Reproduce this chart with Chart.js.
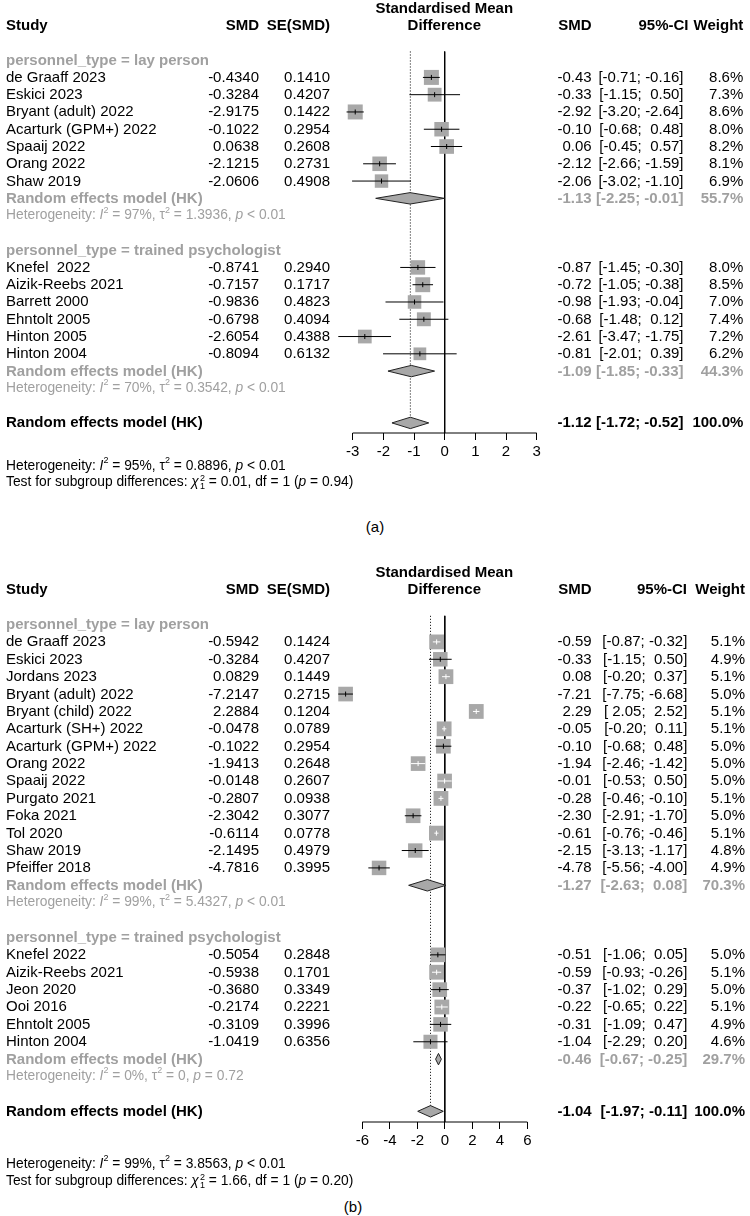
<!DOCTYPE html>
<html>
<head>
<meta charset="utf-8">
<script src="https://cdn.jsdelivr.net/npm/chart.js@4.4.0/dist/chart.umd.min.js"></script>
<style>
  body { margin: 0; background: #fff; }
  #page { position: relative; width: 750px; height: 1216px; overflow: hidden;
          font-family: "Liberation Sans", Arial, sans-serif; font-size: 15px; color: #000; }
  #page canvas { position: absolute; left: 0; }
  .t { position: absolute; white-space: pre; line-height: 18px; height: 18px; }
  .b { font-weight: bold; }
  .g { color: #a0a0a0; }
  .s { font-size: 13.8px; }
  .t sup { font-size: 9px; line-height: 0; position: relative; top: -1px; vertical-align: super; }
  .st { display: inline-flex; flex-direction: column; font-size: 9px; line-height: 8px; vertical-align: 5px; margin-left: 1px; }
</style>
</head>
<body>
<div id="page"></div>
<script>
// ---- panel (a) data ----
const namesA1 = ['de Graaff 2023', 'Eskici 2023', 'Bryant (adult) 2022', 'Acarturk (GPM+) 2022', 'Spaaij 2022', 'Orang 2022', 'Shaw 2019'];
const smdA1 = [-0.4340, -0.3284, -2.9175, -0.1022, 0.0638, -2.1215, -2.0606];
const seA1 = [0.1410, 0.4207, 0.1422, 0.2954, 0.2608, 0.2731, 0.4908];
const loA1 = [-0.71, -1.15, -3.20, -0.68, -0.45, -2.66, -3.02];
const hiA1 = [-0.16, 0.50, -2.64, 0.48, 0.57, -1.59, -1.10];
const wA1 = [8.6, 7.3, 8.6, 8.0, 8.2, 8.1, 6.9];

const namesA2 = ['Knefel  2022', 'Aizik-Reebs 2021', 'Barrett 2000', 'Ehntolt 2005', 'Hinton 2005', 'Hinton 2004'];
const smdA2 = [-0.8741, -0.7157, -0.9836, -0.6798, -2.6054, -0.8094];
const seA2 = [0.2940, 0.1717, 0.4823, 0.4094, 0.4388, 0.6132];
const loA2 = [-1.45, -1.05, -1.93, -1.48, -3.47, -2.01];
const hiA2 = [-0.30, -0.38, -0.04, 0.12, -1.75, 0.39];
const wA2 = [8.0, 8.5, 7.0, 7.4, 7.2, 6.2];

// pooled: lay person, trained psychologist, overall
const pooledEstA = [-1.13, -1.09, -1.12];
const pooledLoA = [-2.25, -1.85, -1.72];
const pooledHiA = [-0.01, -0.33, -0.52];
const pooledWA = [55.7, 44.3, 100.0];
const hetI2A = ['97%', '70%', '95%'];
const hetTauA = ['1.3936', '0.3542', '0.8896'];
const hetPA = ['< 0.01', '< 0.01', '< 0.01'];
const testA = ['0.01', '1', '0.94'];
const ticksA = [-3, 3, 1];

// ---- panel (b) data ----
const namesB1 = ['de Graaff 2023', 'Eskici 2023', 'Jordans 2023', 'Bryant (adult) 2022', 'Bryant (child) 2022', 'Acarturk (SH+) 2022', 'Acarturk (GPM+) 2022', 'Orang 2022', 'Spaaij 2022', 'Purgato 2021', 'Foka 2021', 'Tol 2020', 'Shaw 2019', 'Pfeiffer 2018'];
const smdB1 = [-0.5942, -0.3284, 0.0829, -7.2147, 2.2884, -0.0478, -0.1022, -1.9413, -0.0148, -0.2807, -2.3042, -0.6114, -2.1495, -4.7816];
const seB1 = [0.1424, 0.4207, 0.1449, 0.2715, 0.1204, 0.0789, 0.2954, 0.2648, 0.2607, 0.0938, 0.3077, 0.0778, 0.4979, 0.3995];
const loB1 = [-0.87, -1.15, -0.20, -7.75, 2.05, -0.20, -0.68, -2.46, -0.53, -0.46, -2.91, -0.76, -3.13, -5.56];
const hiB1 = [-0.32, 0.50, 0.37, -6.68, 2.52, 0.11, 0.48, -1.42, 0.50, -0.10, -1.70, -0.46, -1.17, -4.00];
const wB1 = [5.1, 4.9, 5.1, 5.0, 5.1, 5.1, 5.0, 5.0, 5.0, 5.1, 5.0, 5.1, 4.8, 4.9];

const namesB2 = ['Knefel 2022', 'Aizik-Reebs 2021', 'Jeon 2020', 'Ooi 2016', 'Ehntolt 2005', 'Hinton 2004'];
const smdB2 = [-0.5054, -0.5938, -0.3680, -0.2174, -0.3109, -1.0419];
const seB2 = [0.2848, 0.1701, 0.3349, 0.2221, 0.3996, 0.6356];
const loB2 = [-1.06, -0.93, -1.02, -0.65, -1.09, -2.29];
const hiB2 = [0.05, -0.26, 0.29, 0.22, 0.47, 0.20];
const wB2 = [5.0, 5.1, 5.0, 5.1, 4.9, 4.6];

const pooledEstB = [-1.27, -0.46, -1.04];
const pooledLoB = [-2.63, -0.67, -1.97];
const pooledHiB = [0.08, -0.25, -0.11];
const pooledWB = [70.3, 29.7, 100.0];
const hetI2B = ['99%', '0%', '99%'];
const hetTauB = ['5.4327', '0', '3.8563'];
const hetPB = ['< 0.01', '= 0.72', '< 0.01'];
const testB = ['1.66', '1', '0.20'];
const ticksB = [-6, 6, 2];

const groupLabels = ['personnel_type = lay person', 'personnel_type = trained psychologist'];

const page = document.getElementById('page');
const SQUARE = '#a8a8a8';

function addText(html, x, y, align, cls) {
  const d = document.createElement('div');
  d.className = 't ' + (cls || '');
  d.innerHTML = html;
  d.style.top = (y - 9.5) + 'px';
  if (align === 'right') {
    d.style.right = (750 - x) + 'px';
    d.style.textAlign = 'right';
  } else if (align === 'center') {
    d.style.left = (x - 150) + 'px';
    d.style.width = '300px';
    d.style.textAlign = 'center';
  } else {
    d.style.left = x + 'px';
  }
  page.appendChild(d);
}

const ciText = (lo, hi) => {
  const f = v => (v < 0 ? '' : ' ') + v.toFixed(2);
  return '[' + f(lo) + '; ' + f(hi) + ']';
};
const hetText = (i2, tau, p) =>
  'Heterogeneity: <i>I</i><sup>2</sup> = ' + i2 + ', \u03c4<sup>2</sup> = ' + tau + ', <i>p</i> ' + p.replace('<', '&lt;');

function drawPanel(p) {
  const canvas = document.createElement('canvas');
  canvas.width = 750;
  canvas.height = p.height;
  canvas.style.top = p.top + 'px';
  page.appendChild(canvas);

  const padTop = 10, xAxisH = 30;
  const yMin = (p.top + padTop - p.rowTop) / p.rowH;
  const yMax = (p.axisY - p.rowTop) / p.rowH;
  const [axLo, axHi, step] = p.ticks;
  // scale may reach past the drawn axis so far-out squares are still drawn
  const scLo = p.scaleMin !== undefined ? p.scaleMin : axLo;
  const ppu = (p.xRight - p.xLeft) / (axHi - axLo);
  const padLeft = p.xLeft - (axLo - scLo) * ppu;

  const maxW = Math.max(...p.groups.flatMap(g => g.w));
  const side = w => p.maxSide * Math.sqrt(w / maxW);

  // assign rows
  let row = 2;
  p.groups.forEach(g => {
    g.labelRow = row;
    g.rows = g.names.map((n, i) => row + 1 + i);
    g.pooledRow = row + 1 + g.names.length;
    g.hetRow = g.pooledRow + 1;
    row = g.hetRow + 2;
  });
  const overallRow = row;

  // CI fits inside the square -> drawn white
  const inside = (chart, lo, hi, s) => {
    const x = chart.scales.x;
    return x.getPixelForValue(hi) - x.getPixelForValue(lo) <= s;
  };

  const datasets = [];
  // axis line (only over the labelled range)
  datasets.push({
    data: [{ x: axLo, y: yMax }, { x: axHi, y: yMax }],
    showLine: true, borderColor: '#000', borderWidth: 1, pointRadius: 0, order: 11, clip: false
  });
  datasets.push({
    data: [{ x: 0, y: 1.5 }, { x: 0, y: yMax }],
    showLine: true, borderColor: '#000', borderWidth: 1, pointRadius: 0, order: 10, clip: false
  });
  datasets.push({
    data: [{ x: p.pooledEst[2], y: 1.5 }, { x: p.pooledEst[2], y: overallRow }],
    showLine: true, borderColor: '#000', borderWidth: 1, borderDash: [1, 2], pointRadius: 0, order: 9, clip: false
  });

  const sqData = [], sqRad = [], tickData = [], tickCol = [];
  p.groups.forEach(g => {
    g.names.forEach((n, i) => {
      const s = side(g.w[i]);
      sqData.push({ x: g.smd[i], y: g.rows[i] });
      sqRad.push(s / Math.SQRT2);
      tickData.push({ x: g.smd[i], y: g.rows[i] });
      tickCol.push({ lo: g.lo[i], hi: g.hi[i], s: s });
      datasets.push({
        data: [{ x: g.lo[i], y: g.rows[i] }, { x: g.hi[i], y: g.rows[i] }],
        showLine: true, pointRadius: 0, borderWidth: 1, order: 4, clip: false,
        borderColor: ctx => inside(ctx.chart, g.lo[i], g.hi[i], s) ? '#fff' : '#000'
      });
    });
  });
  datasets.push({
    data: sqData, pointStyle: 'rect', pointRadius: sqRad, backgroundColor: SQUARE,
    borderWidth: 0, order: 5, clip: false
  });
  datasets.push({
    data: tickData, pointStyle: 'line', pointRotation: 90, pointRadius: 2.5, pointBorderWidth: 1,
    pointBorderColor: ctx => {
      const c = tickCol[ctx.dataIndex];
      return c && inside(ctx.chart, c.lo, c.hi, c.s) ? '#fff' : '#000';
    },
    order: 3, clip: false
  });

  const pooledRows = [p.groups[0].pooledRow, p.groups[1].pooledRow, overallRow];
  pooledRows.forEach((r, k) => {
    const h = 0.33;
    datasets.push({
      data: [
        { x: p.pooledLo[k], y: r }, { x: p.pooledEst[k], y: r - h },
        { x: p.pooledHi[k], y: r }, { x: p.pooledEst[k], y: r + h },
        { x: p.pooledLo[k], y: r }
      ],
      showLine: true, fill: 'shape', backgroundColor: SQUARE, borderColor: '#222',
      borderWidth: 1, pointRadius: 0, order: 2, clip: false
    });
  });

  const outside = v => v < axLo - 1e-9 || v > axHi + 1e-9;

  const chart = new Chart(canvas, {
    type: 'scatter',
    data: { datasets: datasets },
    options: {
      responsive: false,
      animation: false,
      events: [],
      devicePixelRatio: 1,
      layout: { padding: { left: padLeft, right: 750 - p.xRight, top: padTop, bottom: p.top + p.height - p.axisY - xAxisH } },
      plugins: { legend: { display: false }, tooltip: { enabled: false } },
      scales: {
        x: {
          type: 'linear', min: scLo, max: axHi,
          ticks: {
            stepSize: step, color: '#000', padding: 3, font: { family: 'Liberation Sans', size: 15 },
            callback: v => outside(v) ? '' : v
          },
          grid: {
            drawOnChartArea: false, drawTicks: true, tickLength: 7, lineWidth: 1,
            color: ctx => ctx.tick && outside(ctx.tick.value) ? 'rgba(0,0,0,0)' : '#000'
          },
          border: { display: false },
          afterFit: s => { s.height = xAxisH; }
        },
        y: { type: 'linear', display: false, reverse: true, min: yMin, max: yMax }
      }
    }
  });

  const Y = r => p.top + chart.scales.y.getPixelForValue(r);

  // headers
  addText('Standardised Mean', p.center, Y(-1), 'center', 'b');
  addText('Difference', p.center, Y(0), 'center', 'b');
  addText('Study', 6, Y(0), 'left', 'b');
  addText('SMD', p.colSmd, Y(0), 'right', 'b');
  addText('SE(SMD)', p.colSe, Y(0), 'right', 'b');
  addText('SMD', p.colEst, Y(0), 'right', 'b');
  addText('95%-CI', p.colCiHead, Y(0), 'right', 'b');
  addText('Weight', p.colW, Y(0), 'right', 'b');

  p.groups.forEach((g, k) => {
    addText(groupLabels[k], 6, Y(g.labelRow), 'left', 'b g');
    g.names.forEach((n, i) => {
      const y = Y(g.rows[i]);
      addText(n, 6, y, 'left');
      addText(g.smd[i].toFixed(4), p.colSmd, y, 'right');
      addText(g.se[i].toFixed(4), p.colSe, y, 'right');
      addText(g.smd[i].toFixed(2), p.colEst, y, 'right');
      addText(ciText(g.lo[i], g.hi[i]), p.colCi, y, 'right');
      addText(g.w[i].toFixed(1) + '%', p.colW, y, 'right');
    });
    const y = Y(g.pooledRow);
    addText('Random effects model (HK)', 6, y, 'left', 'b g');
    addText(p.pooledEst[k].toFixed(2), p.colEst, y, 'right', 'b g');
    addText(ciText(p.pooledLo[k], p.pooledHi[k]), p.colCi, y, 'right', 'b g');
    addText(p.pooledW[k].toFixed(1) + '%', p.colW, y, 'right', 'b g');
    addText(hetText(p.hetI2[k], p.hetTau[k], p.hetP[k]), 6, Y(g.hetRow), 'left', 's g');
  });

  const yo = Y(overallRow);
  addText('Random effects model (HK)', 6, yo, 'left', 'b');
  addText(p.pooledEst[2].toFixed(2), p.colEst, yo, 'right', 'b');
  addText(ciText(p.pooledLo[2], p.pooledHi[2]), p.colCi, yo, 'right', 'b');
  addText(p.pooledW[2].toFixed(1) + '%', p.colW, yo, 'right', 'b');

  addText(hetText(p.hetI2[2], p.hetTau[2], p.hetP[2]), 6, p.hetY, 'left', 's');
  addText('Test for subgroup differences: <i>\u03c7</i><span class="st"><span>2</span><span>1</span></span> = ' +
    p.test[0] + ', df = ' + p.test[1] + ' (<i>p</i> = ' + p.test[2] + ')', 6, p.testY, 'left', 's');
  addText(p.tag, p.tagX, p.tagY, 'center');
}

drawPanel({
  top: 0, height: 500, rowTop: 25, rowH: 17.3, axisY: 433,
  xLeft: 352.7, xRight: 536.7, center: 444.3, maxSide: 15, ticks: ticksA,
  colSmd: 259, colSe: 330, colEst: 591.7, colCi: 683.5, colCiHead: 688.5, colW: 743.3,
  groups: [
    { names: namesA1, smd: smdA1, se: seA1, lo: loA1, hi: hiA1, w: wA1 },
    { names: namesA2, smd: smdA2, se: seA2, lo: loA2, hi: hiA2, w: wA2 }
  ],
  pooledEst: pooledEstA, pooledLo: pooledLoA, pooledHi: pooledHiA, pooledW: pooledWA,
  hetI2: hetI2A, hetTau: hetTauA, hetP: hetPA, test: testA,
  hetY: 466, testY: 482.5, tag: '(a)', tagX: 375, tagY: 527
});

drawPanel({
  top: 560, height: 620, rowTop: 589.3, rowH: 17.4, axisY: 1122,
  xLeft: 362.3, xRight: 527.3, center: 444.3, maxSide: 14.8, ticks: ticksB, scaleMin: -8,
  colSmd: 259, colSe: 330, colEst: 591.7, colCi: 687.3, colCiHead: 687, colW: 745,
  groups: [
    { names: namesB1, smd: smdB1, se: seB1, lo: loB1, hi: hiB1, w: wB1 },
    { names: namesB2, smd: smdB2, se: seB2, lo: loB2, hi: hiB2, w: wB2 }
  ],
  pooledEst: pooledEstB, pooledLo: pooledLoB, pooledHi: pooledHiB, pooledW: pooledWB,
  hetI2: hetI2B, hetTau: hetTauB, hetP: hetPB, test: testB,
  hetY: 1164, testY: 1181, tag: '(b)', tagX: 353, tagY: 1207
});
</script>
</body>
</html>
